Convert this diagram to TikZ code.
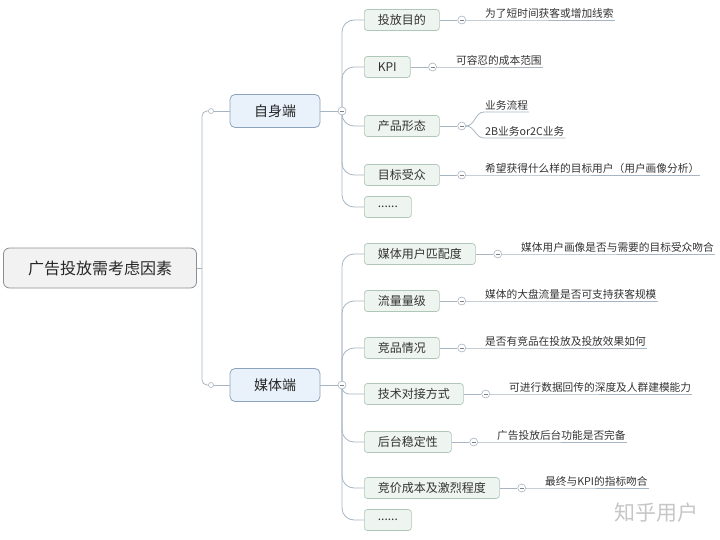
\documentclass[tikz,border=0pt]{standalone}
\usepackage{fontspec}
\setmainfont{Noto Sans CJK SC}
\usetikzlibrary{backgrounds}

\definecolor{linegray}{HTML}{A7B4C2}
\definecolor{rootfill}{HTML}{F2F2F2}
\definecolor{rootdraw}{HTML}{8E8E8E}
\definecolor{sidefill}{HTML}{E9F1FA}
\definecolor{sidedraw}{HTML}{8CA3BC}
\definecolor{itemfill}{HTML}{EEF5F0}
\definecolor{itemdraw}{HTML}{AFC6B8}

\begin{document}
\begin{tikzpicture}[x=1pt, y=-1pt]

% Styles
\tikzset{
  root/.style={draw=rootdraw, fill=rootfill, rounded corners=6pt, line width=0.8pt,
    minimum width=193pt, minimum height=40pt, font=\fontsize{16}{18}\selectfont, text=black!85},
  side/.style={draw=sidedraw, fill=sidefill, rounded corners=5pt, line width=0.8pt,
    minimum width=90pt, minimum height=33pt, font=\fontsize{14}{16}\selectfont, text=black!85},
  item/.style={anchor=west, draw=itemdraw, fill=itemfill, rounded corners=3pt, line width=0.7pt,
    minimum height=21pt, inner xsep=13.5pt, inner ysep=0pt, font=\fontsize{12}{14}\selectfont, text=black!80},
  leaf/.style={anchor=south west, inner xsep=1pt, inner ysep=1.5pt,
    font=\fontsize{10.7}{13}\selectfont, text=black!80},
  link/.style={draw=linegray, line width=0.8pt},
  knob/.style={circle, draw=linegray, fill=white, line width=0.6pt, minimum size=5pt, inner sep=0pt},
  minus/.style={circle, draw=linegray, fill=white, line width=0.6pt, minimum size=8pt, inner sep=0pt,
    path picture={\draw[gray, line width=0.6pt] ([xshift=-2pt]path picture bounding box.center)
      -- ([xshift=2pt]path picture bounding box.center);}}
}

\useasboundingbox (0,0) rectangle (720,540);

% Root and the two sides
\node[root] (root) at (100,268) {广告投放需考虑因素};
\coordinate (rj) at (202,268);
\node[knob] (k1) at (211,111) {};
\node[knob] (k2) at (211,385) {};
\node[side] (self) at (275,111) {自身端};
\node[side] (media) at (275,385) {媒体端};
\node[minus] (s1) at (342,111) {};
\node[minus] (s2) at (342,385) {};

\draw[link] (root.east) -- (rj);
\draw[link, rounded corners=5pt] (rj) |- (k1.west);
\draw[link, rounded corners=5pt] (rj) |- (k2.west);
\draw[link] (k1.east) -- (self.west);
\draw[link] (k2.east) -- (media.west);
\draw[link] (self.east) -- (s1.west);
\draw[link] (media.east) -- (s2.west);

% Self side items
\node[item] (c1) at (364,20) {投放目的};
\node[item] (c2) at (364,67) {KPI};
\node[item] (c3) at (364,126) {产品形态};
\node[item] (c4) at (364,175) {目标受众};
\node[item] (c5) at (364,207) {......};

\node[minus] (d1) at ([xshift=22pt]c1.east) {};
\node[minus] (d2) at ([xshift=22pt]c2.east) {};
\node[minus] (d3) at ([xshift=22pt]c3.east) {};
\node[minus] (d4) at ([xshift=22pt]c4.east) {};

\node[leaf] (l1) at ([xshift=18pt]d1.east) {为了短时间获客或增加线索};
\node[leaf] (l2) at ([xshift=18pt]d2.east) {可容忍的成本范围};
\node[leaf] (l3a) at ([xshift=18pt, yshift=14pt]d3.east) {业务流程};
\node[leaf] (l3b) at ([xshift=18pt, yshift=-12pt]d3.east) {2B业务or2C业务};
\node[leaf] (l4) at ([xshift=18pt]d4.east) {希望获得什么样的目标用户（用户画像分析）};

% Media side items
\node[item] (e1) at (364,254) {媒体用户匹配度};
\node[item] (e2) at (364,301) {流量量级};
\node[item] (e3) at (364,348) {竞品情况};
\node[item] (e4) at (364,394) {技术对接方式};
\node[item] (e5) at (364,442) {后台稳定性};
\node[item] (e6) at (364,488) {竞价成本及激烈程度};
\node[item] (e7) at (364,520) {......};

\node[minus] (f1) at ([xshift=22pt]e1.east) {};
\node[minus] (f2) at ([xshift=22pt]e2.east) {};
\node[minus] (f3) at ([xshift=22pt]e3.east) {};
\node[minus] (f4) at ([xshift=22pt]e4.east) {};
\node[minus] (f5) at ([xshift=22pt]e5.east) {};
\node[minus] (f6) at ([xshift=22pt]e6.east) {};

\node[leaf] (m1) at ([xshift=18pt]f1.east) {媒体用户画像是否与需要的目标受众吻合};
\node[leaf] (m2) at ([xshift=18pt]f2.east) {媒体的大盘流量是否可支持获客规模};
\node[leaf] (m3) at ([xshift=18pt]f3.east) {是否有竞品在投放及投放效果如何};
\node[leaf] (m4) at ([xshift=18pt]f4.east) {可进行数据回传的深度及人群建模能力};
\node[leaf] (m5) at ([xshift=18pt]f5.east) {广告投放后台功能是否完备};
\node[leaf] (m6) at ([xshift=18pt]f6.east) {最终与KPI的指标吻合};

% Connectors behind the nodes
\begin{scope}[on background layer]
  \foreach \c in {c1,c2,c3,c4,c5}
    \draw[link, rounded corners=12pt] (s1.center) |- (\c.west);
  \foreach \c/\r in {e1/12pt,e2/12pt,e3/12pt,e4/7pt,e5/12pt,e6/12pt,e7/12pt}
    \draw[link, rounded corners=\r] (s2.center) |- (\c.west);
\end{scope}

\foreach \c/\d in {c1/d1,c2/d2,c3/d3,c4/d4,e1/f1,e2/f2,e3/f3,e4/f4,e5/f5,e6/f6}
  \draw[link] (\c.east) -- (\d.west);

\foreach \d/\l in {d1/l1,d2/l2,d4/l4,f1/m1,f2/m2,f3/m3,f4/m4,f5/m5,f6/m6}
  \draw[link] (\d.east) -- (\l.south west) -- (\l.south east);
\draw[link] (d3.east) to[out=0, in=180] (l3a.south west) -- (l3a.south east);
\draw[link] (d3.east) to[out=0, in=180] (l3b.south west) -- (l3b.south east);

% Watermark
\node[text=gray!45, font=\fontsize{21}{24}\selectfont] (mark) at (656,513) {知乎用户};

\end{tikzpicture}
\end{document}
